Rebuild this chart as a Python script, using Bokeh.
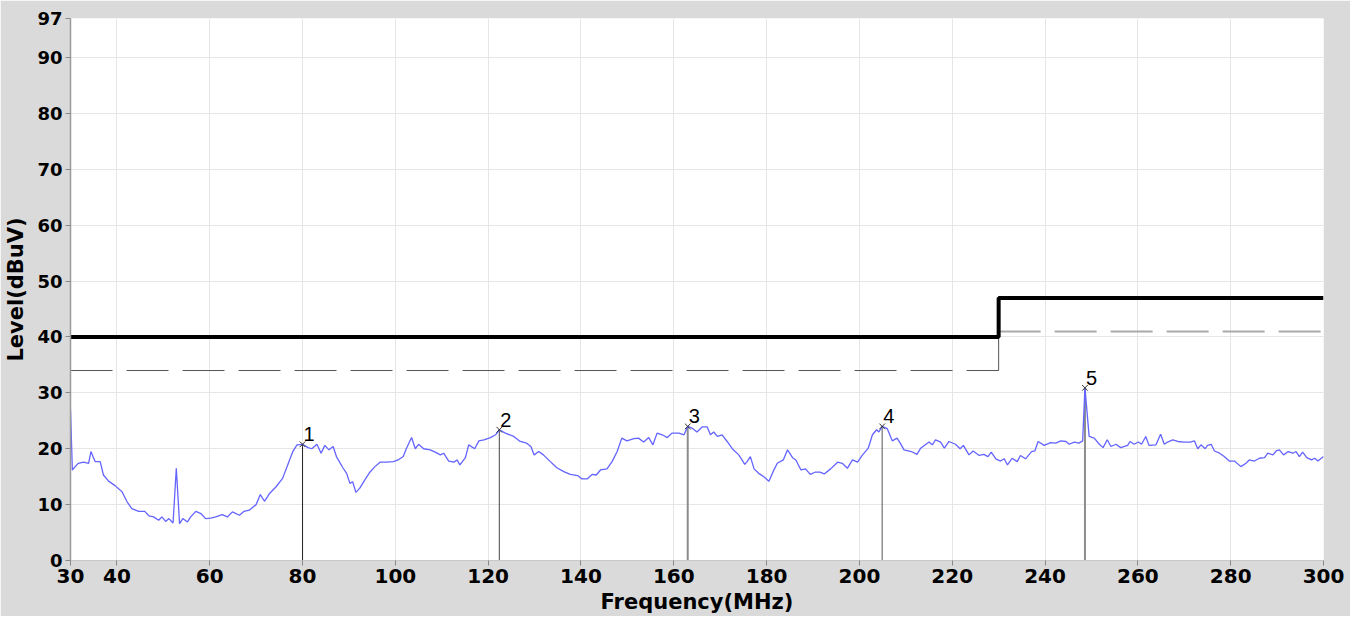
from bokeh.plotting import figure
from bokeh.models import FixedTicker, ColumnDataSource, Range1d
from bokeh.core.properties import value
from bokeh.embed import file_html
from bokeh.resources import INLINE

# ---------------- data ----------------
freq = [30.0, 30.4, 31.0, 31.7, 32.8, 33.9, 34.4, 35.3, 36.4, 37.1, 38.2, 39.6, 41.1, 42.2, 43.2, 44.7,
        46.0, 46.9, 47.9, 49.0, 49.7, 50.5, 51.2, 52.1, 52.8, 53.5, 54.2, 55.2, 55.9, 57.0, 58.1, 59.1,
        60.2, 61.3, 62.7, 63.8, 64.9, 66.4, 67.4, 68.5, 70.0, 70.9, 71.8, 72.9, 74.3, 75.7, 76.8, 77.9,
        78.8, 80.0, 81.2, 82.0, 83.1, 84.0, 84.8, 85.7, 86.6, 87.3, 88.7, 89.5, 90.2, 90.8, 91.5, 92.3,
        93.4, 94.5, 95.6, 96.7, 98.1, 99.6, 100.6, 101.7, 102.4, 103.5, 104.3, 105.0, 106.1, 107.5, 108.6,
        109.7, 110.4, 111.5, 112.6, 113.3, 113.9, 115.1, 115.8, 117.1, 118.0, 119.1, 120.5, 121.6, 122.4,
        123.7, 125.5, 126.9, 128.3, 129.2, 129.9, 130.9, 131.9, 133.4, 134.8, 136.3, 137.7, 139.3, 140.2,
        141.3, 142.4, 143.3, 144.2, 145.6, 146.7, 147.8, 148.8, 149.9, 151.4, 152.4, 153.5, 154.6, 155.5,
        156.4, 157.5, 158.6, 159.6, 161.1, 162.2, 163.0, 163.9, 165.0, 166.1, 167.2, 167.9, 168.6, 169.4,
        170.4, 171.5, 172.6, 174.0, 175.3, 175.8, 176.5, 177.3, 178.3, 179.4, 180.5, 181.4, 182.3, 183.6,
        184.5, 185.6, 186.3, 187.4, 188.4, 189.4, 190.4, 191.5, 192.4, 193.8, 195.3, 196.3, 197.4, 198.5,
        199.6, 200.6, 201.9, 202.8, 203.7, 204.2, 204.9, 206.0, 207.1, 208.1, 208.8, 209.6, 211.2, 212.4,
        213.2,
        215.0, 215.7, 216.4, 217.5, 218.3, 219.3, 220.7, 221.7, 222.4, 223.6, 224.5, 225.8, 226.8, 227.7,
        228.4, 229.4, 230.4, 231.2, 231.9, 232.9, 234.0, 234.7, 235.8, 237.1, 237.8, 238.5, 239.8, 241.2,
        242.3, 243.4, 244.5, 245.2, 246.3, 247.3, 248.1, 248.6, 249.5, 250.6, 251.7, 252.5, 253.4, 254.2,
        255.3, 256.3, 257.8, 258.3, 259.2, 260.1, 260.8, 261.7, 262.4, 263.9, 264.9, 265.7, 266.4, 267.5,
        268.6, 270.0, 271.3, 272.2, 272.9, 273.6, 274.5, 275.0, 275.8, 276.5, 277.6, 278.6, 279.7, 280.8,
        282.2, 283.3, 284.0, 285.1, 286.2, 287.3, 288.0, 289.1, 289.8, 290.5, 291.4, 292.4, 293.4, 294.1,
        294.8, 295.5, 296.4, 297.4, 298.1, 298.8, 300.0]

level = [27.0, 16.2, 16.8, 17.4, 17.6, 17.4, 19.5, 17.7, 17.7, 15.3, 14.2, 13.4, 12.3, 10.5, 9.3, 8.8,
         8.8, 8.0, 7.8, 7.2, 7.8, 7.0, 7.5, 6.7, 16.5, 6.6, 7.5, 6.9, 7.8, 8.8, 8.4, 7.5,
         7.6, 7.8, 8.2, 7.8, 8.7, 8.1, 8.8, 9.0, 10.0, 11.8, 10.6, 12.0, 13.2, 14.7, 17.1, 19.5,
         20.7, 20.8, 20.2, 20.0, 20.8, 19.2, 20.6, 19.8, 20.4, 18.6, 16.6, 15.6, 13.8, 14.1, 12.2, 12.9,
         14.4, 15.8, 16.8, 17.6, 17.6, 17.7, 18.0, 18.6, 20.1, 22.0, 20.0, 20.8, 20.0, 19.8, 19.4,
         18.9, 19.2, 17.8, 17.6, 18.0, 17.1, 18.4, 20.7, 20.0, 21.4, 21.6, 22.0, 22.5, 23.4,
         22.8, 22.2, 21.3, 21.0, 20.4, 18.9, 19.5, 18.9, 17.7, 16.6, 15.9, 15.4, 15.2, 14.6,
         14.6, 15.4, 15.3, 16.2, 16.4, 17.7, 19.5, 21.9, 21.4, 21.8, 21.9, 21.2, 22.0, 20.7,
         22.8, 22.5, 22.0, 22.8, 22.8, 22.5, 24.0, 23.7, 23.0, 23.9, 23.9, 22.5, 23.0, 22.2,
         22.5, 21.3, 20.0, 18.9, 17.2, 17.7, 18.6, 16.4, 15.6, 15.0, 14.2, 15.9, 17.4, 18.0,
         19.8, 18.4, 18.0, 16.2, 16.4, 15.4, 15.8, 15.8, 15.5, 16.4, 17.6, 17.4, 16.5, 18.0,
         17.6, 18.8, 20.1, 22.5, 23.4, 23.0, 24.0, 23.6, 21.4, 21.9, 21.0, 19.8, 19.5, 19.0,
         20.1,
         21.2, 20.7, 21.6, 21.2, 20.1, 21.3, 20.8, 20.0, 20.6, 18.9, 19.6, 18.8, 19.0, 18.6,
         19.4, 18.2, 17.8, 18.2, 17.1, 18.3, 17.7, 18.8, 18.2, 19.5, 19.6, 21.3, 20.6, 21.1,
         21.0, 21.4, 21.3, 20.8, 21.2, 21.0, 21.4, 30.9, 22.2, 21.9, 20.8, 20.2, 21.6, 20.4,
         20.8, 20.2, 20.6, 21.3, 20.8, 21.2, 20.8, 22.2, 20.6, 20.7, 22.6, 20.8, 21.2, 21.6,
         21.3, 21.2, 21.2, 21.4, 20.0, 20.7, 20.0, 20.6, 20.8, 19.6, 19.2, 18.6, 17.8, 17.8,
         16.8, 17.4, 18.0, 17.8, 18.3, 18.4, 19.2, 18.9, 19.6, 19.8, 18.9, 19.5, 19.2, 19.5,
         18.6, 19.4, 18.4, 18.0, 18.3, 17.8, 18.6]

limit_x = [30, 230, 230, 300]
limit_y = [40, 40, 47, 47]

margin_low_x = [30, 230]
margin_low_y = [34, 34]
margin_step_x = [230, 230]
margin_step_y = [34, 41]
margin_high_x = [230, 300]
margin_high_y = [41, 41]

marker_freq = [80.0, 122.4, 163.0, 204.9, 248.6]
marker_level = [20.8, 23.4, 24.0, 24.0, 30.9]
marker_label = ["1", "2", "3", "4", "5"]
marker_color = ["#222222", "#444444", "#8c8c8c", "#555555", "#8c8c8c"]
marker_width = [1, 1, 2, 1, 2]

x_ticks = [30, 40, 60, 80, 100, 120, 140, 160, 180, 200, 220, 240, 260, 280, 300]
y_ticks = [0, 10, 20, 30, 40, 50, 60, 70, 80, 90, 97]

n = min(len(freq), len(level))
freq = freq[:n]
level = level[:n]

# ---------------- figure ----------------
p = figure(frame_width=1253, frame_height=542, output_backend="svg", toolbar_location=None,
           x_range=Range1d(30, 300), y_range=Range1d(0, 97),
           min_border_left=70, min_border_right=27, min_border_top=18, min_border_bottom=52)

p.background_fill_color = "white"
p.border_fill_color = "#dadada"
p.outline_line_color = None

p.xaxis.ticker = FixedTicker(ticks=x_ticks)
p.yaxis.ticker = FixedTicker(ticks=y_ticks)
p.xgrid.ticker = FixedTicker(ticks=x_ticks)
p.ygrid.ticker = FixedTicker(ticks=y_ticks)
p.xgrid.grid_line_color = "#e6e6e6"
p.ygrid.grid_line_color = "#e6e6e6"

for ax in (p.xaxis[0], p.yaxis[0]):
    ax.major_label_text_font = "DejaVu Sans"
    ax.major_label_text_font_style = "bold"
    ax.major_label_text_color = "black"
    ax.axis_label_text_font = "DejaVu Sans"
    ax.axis_label_text_font_style = "bold"
    ax.axis_label_text_color = "black"
    ax.major_tick_in = 0
    ax.major_tick_out = 5
    ax.major_tick_line_color = "#888888"
    ax.minor_tick_line_color = None
    ax.major_label_standoff = 3

p.xaxis.axis_label = "Frequency(MHz)"
p.yaxis.axis_label = "Level(dBuV)"
p.xaxis.major_label_text_font_size = "20px"
p.yaxis.major_label_text_font_size = "18px"
p.xaxis.axis_label_text_font_size = "21px"
p.yaxis.axis_label_text_font_size = "21px"
p.xaxis.axis_label_standoff = 4
p.yaxis.axis_label_standoff = 6
p.yaxis.axis_line_color = "#9a9a9a"
p.yaxis.axis_line_width = 1.5
p.xaxis.axis_line_color = "#c8c8c8"

# margin (dashed) lines
p.line(margin_low_x, margin_low_y, line_color="#555555", line_width=1, line_dash="42 14")
p.line(margin_step_x, margin_step_y, line_color="#555555", line_width=1)
p.line(margin_high_x, margin_high_y, line_color="#aaaaaa", line_width=2, line_dash="42 14")

# limit line
p.line(limit_x, limit_y, line_color="black", line_width=4)

# marker vertical lines
msrc = ColumnDataSource(dict(x=marker_freq, y=marker_level, y0=[0] * len(marker_freq),
                             label=marker_label, color=marker_color, w=marker_width))
p.segment(x0="x", y0="y0", x1="x", y1="y", line_color="color", line_width="w", source=msrc)

# trace
p.line(freq, level, line_color="#6464ff", line_width=1.3)

# markers
p.scatter(x="x", y="y", marker="x", size=8, line_color="#333333", line_width=1, source=msrc)
p.text(x="x", y="y", text="label", source=msrc, text_font=value("Liberation Sans"),
       text_font_size="20px", text_color="black", text_align="left", text_baseline="bottom",
       x_offset=1, y_offset=-3)

open("out.html", "w").write(file_html(p, INLINE))
